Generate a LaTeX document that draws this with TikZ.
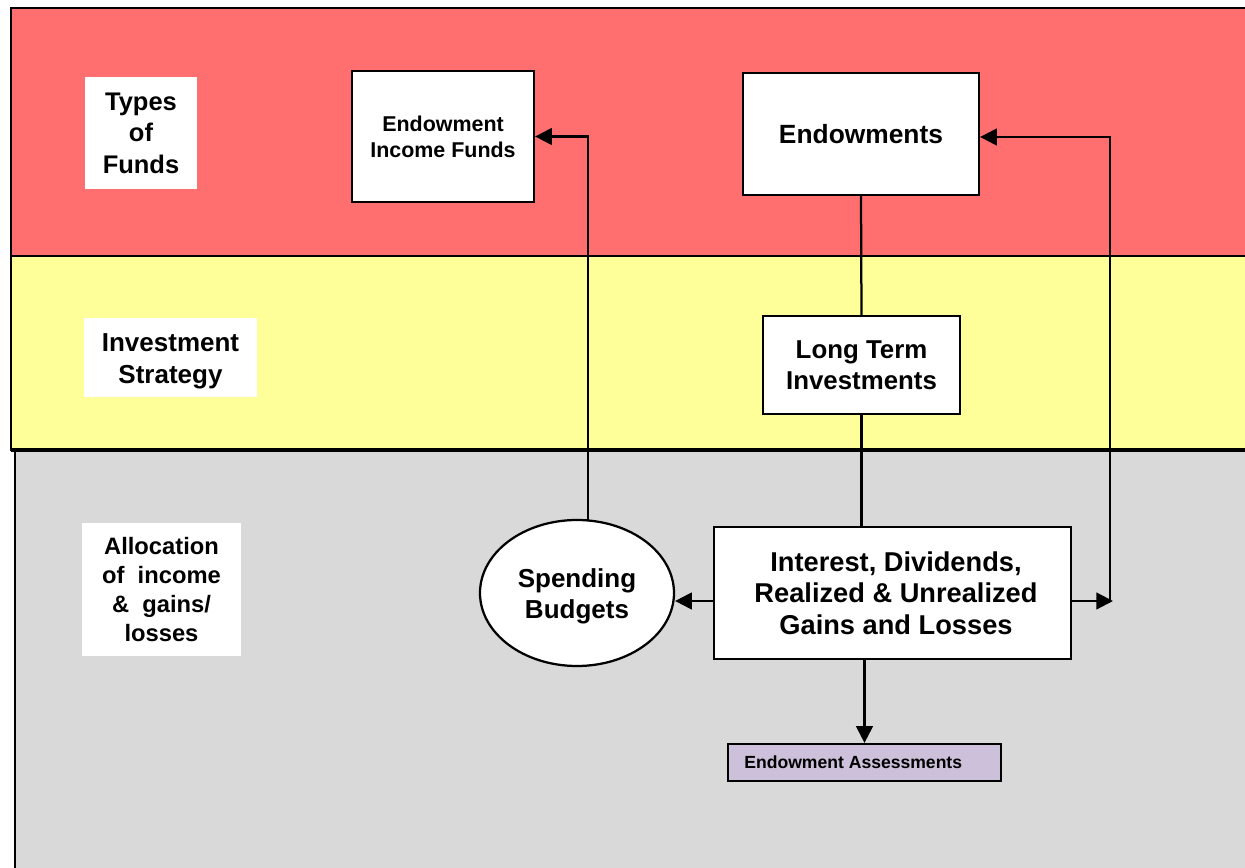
\documentclass[tikz,border=0pt]{standalone}
\usepackage{fontspec}
\setmainfont{Liberation Sans}
\usetikzlibrary{arrows.meta,shapes.geometric,positioning}

\definecolor{bandred}{RGB}{255,111,111}
\definecolor{bandyellow}{RGB}{255,255,153}
\definecolor{bandgray}{RGB}{217,217,217}
\definecolor{assesslilac}{RGB}{204,192,218}

\tikzset{
  band/.style={draw=black, line width=0.04cm},
  lbl/.style={fill=white, align=center, inner sep=0pt, font=\bfseries},
  fundbox/.style={draw=black, fill=white, line width=0.045cm, align=center, inner sep=0pt, font=\bfseries},
  link/.style={line width=0.045cm},
  flow/.style={link, -{Triangle[length=9.5pt,width=9.5pt]}}
}

\begin{document}
\begin{tikzpicture}[every node/.style={text=black}]
    \useasboundingbox (0,0) rectangle (24.9,-17.36);
    \begin{scope}
    \clip (0,0) rectangle (24.9,-17.36);
    % bands
    \draw[band, fill=bandgray] (0.3,-9.02) rectangle (25.3,-17.8);
    \draw[band, fill=bandred] (0.22,-0.16) rectangle (25.3,-5.12);
    \draw[band, fill=bandyellow] (0.22,-5.12) rectangle (25.3,-9.0);
    \draw[line width=0.08cm] (0.22,-9.0) -- (25.3,-9.0);
    \end{scope}

    % row labels
    \node[lbl, minimum width=2.24cm, minimum height=2.24cm, font=\bfseries\fontsize{14.5}{18}\selectfont] (types) at (2.82,-2.66) {Types\\of\\Funds};
    \node[lbl, minimum width=3.46cm, minimum height=1.58cm] (strategy) at (3.41,-7.15) {};
    \node[font=\bfseries\fontsize{14.8}{18}\selectfont, align=center, inner sep=0pt] (strategytext) at (3.41,-7.23) {Investment\\Strategy};
    \node[lbl, minimum width=3.18cm, minimum height=2.66cm, font=\bfseries\fontsize{13.5}{16.4}\selectfont] (alloc) at (3.23,-11.79) {Allocation\\of \ income\\\& \ gains/\\losses};

    % funds and flows
    \node[fundbox, minimum width=3.64cm, minimum height=2.62cm, font=\bfseries\fontsize{12.2}{14.7}\selectfont] (incfunds) at (8.86,-2.73) {Endowment\\Income Funds};
    \node[fundbox, minimum width=4.72cm, minimum height=2.44cm, font=\bfseries\fontsize{15}{18}\selectfont] (endow) at (17.22,-2.68) {\raisebox{-0.04cm}{Endowments}};
    \node[fundbox, minimum width=3.94cm, minimum height=1.96cm, font=\bfseries\fontsize{14.7}{17.6}\selectfont] (longterm) at (17.23,-7.3) {Long Term\\Investments};
    \node[fundbox, ellipse, minimum width=3.88cm, minimum height=2.92cm] (spend) at (11.54,-11.86) {};
    \node[font=\bfseries\fontsize{14.8}{17.8}\selectfont, align=center, inner sep=0pt] (spendtext) at (11.54,-11.92) {Spending\\Budgets};
    \node[fundbox, minimum width=7.14cm, minimum height=2.64cm, font=\bfseries\fontsize{15.5}{17.9}\selectfont] (returns) at (17.85,-11.86) {\hspace*{0.14cm}Interest, Dividends,\\\hspace*{0.14cm}Realized \& Unrealized\\\hspace*{0.14cm}Gains and Losses};
    \node[fundbox, fill=assesslilac, minimum width=5.46cm, minimum height=0.74cm, font=\bfseries\fontsize{10}{12}\selectfont] (assess) at (17.29,-15.25) {\hspace*{-0.45cm}Endowment Assessments};

    \coordinate (spendtop) at (11.76,-10.42);
    \coordinate (loop) at (22.2,-12.02);

    \draw[flow] (spendtop) |- (incfunds.east);
    \draw[link] (endow.south) -- (longterm.north);
    \draw[link] (longterm.south) -- (longterm.south |- returns.north);
    \draw[flow] ([yshift=-0.16cm]returns.west) -- ([yshift=-0.16cm]spend.east);
    \draw[flow] ([yshift=-0.16cm]returns.east) -- ([xshift=0.06cm]loop);
    \draw[flow] (loop) |- ([yshift=-0.06cm]endow.east);
    \draw[flow] (assess.north |- returns.south) -- (assess.north);
\end{tikzpicture}
\end{document}
